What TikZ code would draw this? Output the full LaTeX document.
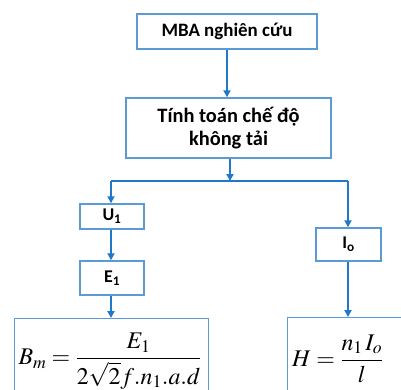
\documentclass[tikz,border=0pt]{standalone}
\usepackage{amsmath}
\usepackage{mathptmx}
\usepackage{fontspec}
\setmainfont{Carlito}
\usetikzlibrary{arrows.meta}
\definecolor{boxline}{HTML}{5B9BD5}
\definecolor{arrowblue}{HTML}{1F78C8}
\tikzset{
  box/.style={draw=boxline, line width=1.4bp, fill=white, inner sep=0pt,
    font=\fontsize{19}{23}\selectfont\bfseries, align=center},
  bigbox/.style={box, font=\fontsize{20.5}{24}\selectfont\bfseries},
  smallbox/.style={box, font=\fontsize{18}{22}\selectfont\bfseries},
  formula/.style={font=\fontsize{24}{30}\selectfont, inner sep=0pt},
  flow/.style={draw=arrowblue, line width=1.8bp,
    -{Triangle[length=7bp,width=7bp]}},
  joint/.style={draw=arrowblue, line width=1.8bp}
}
\begin{document}
\begin{tikzpicture}[x=1bp,y=-1bp]
  \useasboundingbox (0,0) rectangle (401,390);
  \clip (0,0) rectangle (401,390);
  % process boxes
  \node[box, minimum width=180bp, minimum height=35bp] (mba) at (227,31.5) {MBA nghiên cứu};
  \node[bigbox, minimum width=205bp, minimum height=60bp] (calc) at (228.5,128) {Tính toán chế độ\\không tải};
  \node[smallbox, minimum width=64bp, minimum height=25bp] (u1) at (112,216.5) {U\textsubscript{1}};
  \node[smallbox, minimum width=64bp, minimum height=34bp] (e1) at (112,278) {E\textsubscript{1}};
  \node[smallbox, minimum width=65bp, minimum height=33bp] (io) at (348.5,244.5) {I\textsubscript{o}};
  % formula boxes
  \node[box, minimum width=194bp, minimum height=82bp, anchor=north west] (bm) at (14,318) {};
  \node[formula] (bmf) at (110,361)
    {$B_m=\dfrac{E_1}{2\sqrt{2}f.n_1.a.d}$};
  \node[box, minimum width=133bp, minimum height=83bp, anchor=north west] (hh) at (287,317) {};
  \node[formula, anchor=west] (hf) at (292,359)
    {$H=\dfrac{n_1\, I_o}{l}$};
  % branch points
  \coordinate (j) at (230,181);
  \coordinate (jl) at (111,181);
  \coordinate (jr) at (348,181);
  % connectors
  \draw[flow] (mba.south) -- (mba.south |- calc.north);
  \draw[flow] (calc.south -| j) -- (j);
  \draw[joint] (jl) -- (jr);
  \draw[flow] (jl) -- (jl |- u1.north);
  \draw[flow] (jr) -- (jr |- io.north);
  \draw[flow] (u1.south -| jl) -- (jl |- e1.north);
  \draw[flow] (e1.south -| jl) -- (jl |- bm.north);
  \draw[flow] (io.south -| jr) -- (jr |- hh.north);
\end{tikzpicture}
\end{document}
